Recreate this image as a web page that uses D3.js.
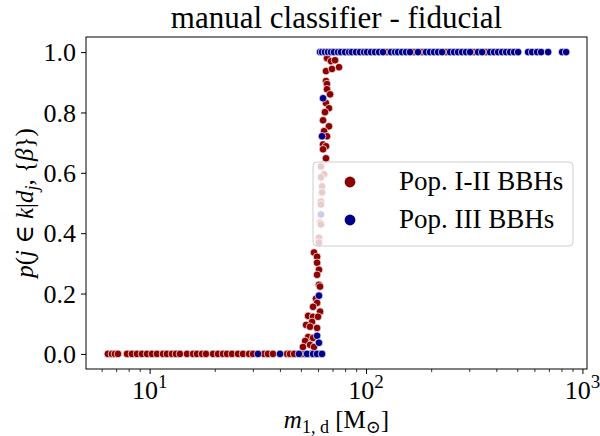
<!DOCTYPE html>
<html><head><meta charset="utf-8">
<script src="https://cdn.jsdelivr.net/npm/d3@7"></script>
<style>body{margin:0;background:#fff}svg{display:block}text{font-family:"Liberation Serif","DejaVu Serif",serif;fill:#000}</style>
</head><body><svg id="c" width="600" height="436"></svg>
<script>
// ---- data ----
const titleText = "manual classifier - fiducial";
const seriesNames = ["Pop. I-II BBHs", "Pop. III BBHs"];
const seriesColors = ["#8b0000", "#00008b"];
const yTicks = [0.0, 0.2, 0.4, 0.6, 0.8, 1.0];
const xMajorTicks = [10, 100, 1000];
const xTickExponents = ["1", "2", "3"];

// Pop I-II points [mass, probability]
const popI_bottom = [6.41,6.69,6.91,7.14,7.86,8.28,8.74,9.21,9.72,10.25,10.81,11.52,12.02,12.68,13.23,13.81,14.88,15.86,16.55,17.45,18.21,19.62,20.69,21.82,22.78,24.02,25.6,27.0,28.78,30.04,33.76,35.23,37.15,43.14,44.54,46.48,51.13,55.1,61.29];
const popI_transition = [
 [66.0,0.980],[68.9,0.970],[71.9,0.973],[75.0,0.950],[65.3,0.937],[69.6,0.944],[65.3,0.904],[66.0,0.894],
 [66.0,0.877],[68.2,0.860],[65.3,0.831],[67.4,0.814],[64.6,0.801],[63.3,0.774],[67.4,0.754],[64.0,0.738],
 [66.0,0.721],[63.3,0.694],[65.3,0.688],[63.3,0.678],[65.3,0.648],[61.9,0.621],[64.0,0.595],[61.9,0.585],
 [62.6,0.555],[62.6,0.535],[61.9,0.505],[61.9,0.495],[61.3,0.435],[61.9,0.429],[60.6,0.385],[60.6,0.369],
 [57.5,0.336],[59.4,0.322],[59.4,0.302],[60.6,0.279],[59.4,0.262],[60.6,0.229],[61.3,0.223],[58.7,0.183],
 [59.4,0.169],[56.9,0.156],[61.3,0.140],[54.0,0.126],[56.9,0.123],[60.0,0.123],[56.3,0.106],[52.85,0.096],
 [55.1,0.090],[59.4,0.086],[54.0,0.056],[56.9,0.053],[52.3,0.043],[55.1,0.030],[51.1,0.023],[57.5,0.023]
];
const popI_top = [125.1,166.7,181.5,234.4,315.7,358.8];

// Pop III points
const popIII_bottom = [31.67,40.04,49.0,53.36,56.89,59.36,62.6];
const popIII_transition = [[63.3,0.847],[62.6,0.721],[61.9,0.462],[60.6,0.193],[59.4,0.060],[60.6,0.037]];
const popIII_top = [61.3,62.6,64.6,66.7,68.9,71.1,74.2,76.6,80.0,83.5,86.1,89.9,93.8,97.9,101.1,105.5,110.0,114.9,119.8,130.5,136.2,140.6,146.7,153.1,159.7,173.9,189.4,197.6,206.3,215.2,224.6,244.6,255.2,266.3,277.9,290.0,302.6,329.5,343.9,374.4,390.7,407.7,425.5,444.0,463.3,483.5,504.5,561.0,585.5,617.5,644.4,694.2,805.8,840.9];

const popI = popI_bottom.map(m=>[m,0]).concat(popI_transition, popI_top.map(m=>[m,1]));
const popIII = popIII_bottom.map(m=>[m,0]).concat(popIII_transition, popIII_top.map(m=>[m,1]));

// ---- layout ----
const L=86, R=587, T=37, B=369;
const svg = d3.select("#c");
const x = d3.scaleLog().domain([5.08, 1050]).range([L, R]);
const y = d3.scaleLinear().domain([-0.05, 1.05]).range([B, T]);

// points
const pts = svg.append("g");
[[popI,0],[popIII,1]].forEach(([data,i])=>{
  pts.selectAll(null).data(data).enter().append("circle")
    .attr("cx",d=>x(d[0])).attr("cy",d=>y(d[1])).attr("r",3.8)
    .attr("fill",seriesColors[i]).attr("stroke","#fff").attr("stroke-width",0.7);
});

// minor x ticks
const minor = [];
[1,10,100,1000].forEach(dec=>{for(let k=2;k<=9;k++){const v=dec*k; if(v>=x.domain()[0]&&v<=x.domain()[1]) minor.push(v);}});
const gxMinor = svg.append("g").attr("transform",`translate(0,${B})`)
  .call(d3.axisBottom(x).tickValues(minor).tickSize(3).tickFormat(""));
gxMinor.select(".domain").remove();
gxMinor.selectAll("line").attr("stroke","#000").attr("stroke-width",0.8);

const gx = svg.append("g").attr("transform",`translate(0,${B})`)
  .call(d3.axisBottom(x).tickValues(xMajorTicks).tickSize(5).tickFormat(""));
gx.select(".domain").remove();
gx.selectAll("line").attr("stroke","#000").attr("stroke-width",1);
xMajorTicks.forEach((v,i)=>{
  const t = svg.append("text").attr("x",x(v)).attr("y",399).attr("text-anchor","middle").attr("font-size",26);
  t.append("tspan").text("10");
  t.append("tspan").attr("dy",-11).attr("font-size",19).text(xTickExponents[i]);
});

const gy = svg.append("g").attr("transform",`translate(${L},0)`)
  .call(d3.axisLeft(y).tickValues(yTicks).tickSize(5).tickPadding(5).tickFormat(d3.format(".1f")));
gy.select(".domain").remove();
gy.selectAll("line").attr("stroke","#000").attr("stroke-width",1);
gy.selectAll("text").attr("font-size",26).attr("font-family","Liberation Serif").attr("dy","0.33em");

// spine
svg.append("rect").attr("x",L).attr("y",T).attr("width",R-L).attr("height",B-T)
  .attr("fill","none").attr("stroke","#000").attr("stroke-width",1);

// title
svg.append("text").attr("x",(L+R)/2).attr("y",28).attr("text-anchor","middle").attr("font-size",31).text(titleText);

// x label
const xl = svg.append("text").attr("x",(L+R)/2).attr("y",428).attr("text-anchor","middle").attr("font-size",25);
xl.append("tspan").attr("font-style","italic").text("m");
xl.append("tspan").attr("font-size",18).attr("dy",5).text("1, d");
xl.append("tspan").attr("dy",-5).text(" [M");
xl.append("tspan").attr("font-size",18).attr("dy",5).text("⊙");
xl.append("tspan").attr("dy",-5).text("]");

// y label
const yl = svg.append("text").attr("transform",`translate(33,${(T+B)/2}) rotate(-90)`).attr("text-anchor","middle").attr("font-size",25);
yl.append("tspan").attr("font-style","italic").text("p");
yl.append("tspan").text("(");
yl.append("tspan").attr("font-style","italic").text("j");
yl.append("tspan").text(" ∈ ");
yl.append("tspan").attr("font-style","italic").text("k");
yl.append("tspan").text("|");
yl.append("tspan").attr("font-style","italic").text("d");
yl.append("tspan").attr("font-style","italic").attr("font-size",18).attr("dy",5).text("j");
yl.append("tspan").attr("dy",-5).text(", {");
yl.append("tspan").attr("font-style","italic").text("β");
yl.append("tspan").text("})");

// legend
const lg = svg.append("g");
lg.append("rect").attr("x",313).attr("y",162).attr("width",260).attr("height",84).attr("rx",4)
  .attr("fill","#fff").attr("fill-opacity",0.8).attr("stroke","#cccccc").attr("stroke-width",1);
seriesNames.forEach((n,i)=>{
  const yy = 182 + i*38;
  lg.append("circle").attr("cx",350).attr("cy",yy).attr("r",5.4).attr("fill",seriesColors[i]);
  lg.append("text").attr("x",399).attr("y",yy+8).attr("font-size",27).text(n);
});
</script></body></html>
